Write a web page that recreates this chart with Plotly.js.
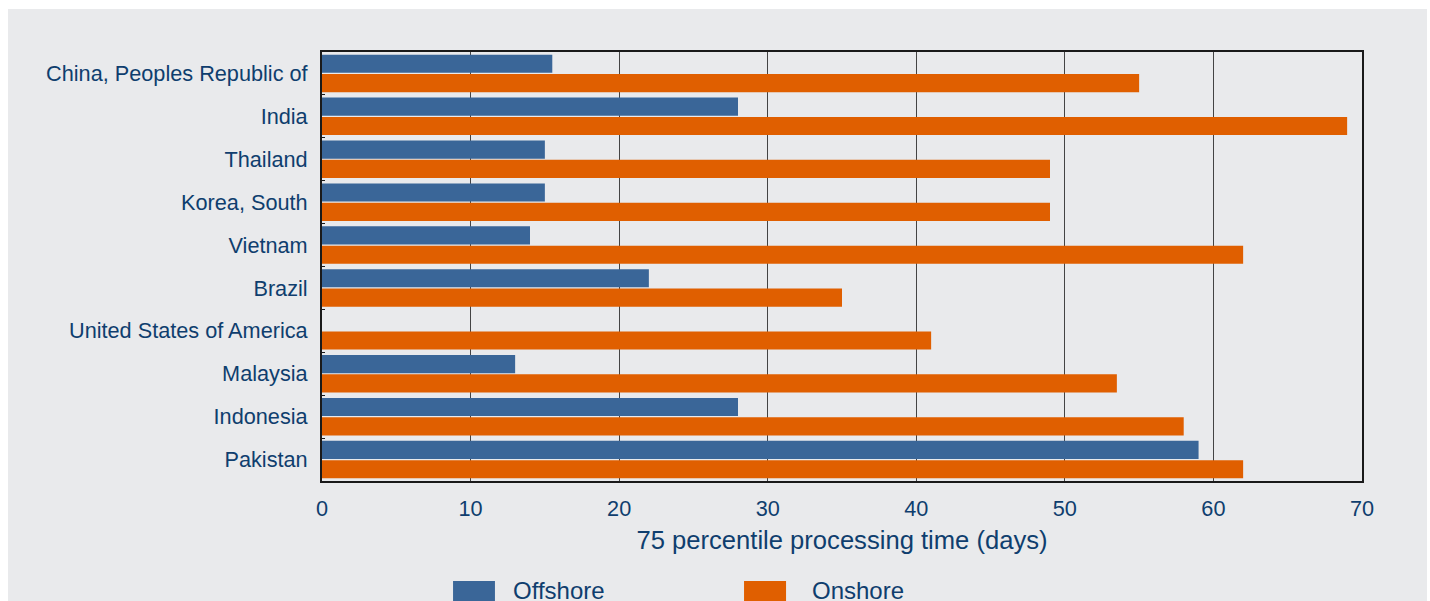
<!DOCTYPE html>
<html>
<head>
<meta charset="utf-8">
<script src="https://cdn.plot.ly/plotly-3.0.1.min.js"></script>
<style>
html,body{margin:0;padding:0;background:#ffffff;width:1430px;height:601px;overflow:hidden;}
#chart{position:absolute;left:8px;top:9px;width:1419px;height:592px;}
</style>
</head>
<body>
<div id="chart"></div>
<script>
const countries = ["China, Peoples Republic of","India","Thailand","Korea, South","Vietnam","Brazil","United States of America","Malaysia","Indonesia","Pakistan"];
const offshore = [15.5, 28, 15, 15, 14, 22, 0, 13, 28, 59];
const onshore  = [55, 69, 49, 49, 62, 35, 41, 53.5, 58, 62];
const seriesNames = ["Offshore","Onshore"];
const seriesColors = ["#3a6698","#e05f00"];
const xTitle = "75 percentile processing time (days)";

const textColor = "#0f3e6e";
const font = {family:"Liberation Sans, Arial, sans-serif", color:textColor};

const traces = [
  {type:"bar", orientation:"h", name:seriesNames[0], y:countries, x:offshore, marker:{color:seriesColors[0]}, hoverinfo:"x+y"},
  {type:"bar", orientation:"h", name:seriesNames[1], y:countries, x:onshore, marker:{color:seriesColors[1]}, hoverinfo:"x+y"}
];

// custom legend (swatches + labels) below plot
const legendSwatch = [[0.126,0.1663],[0.4058,0.4462]];
const legendTextX = [0.1815,0.4690];
const shapes = legendSwatch.map((p,i)=>({type:"rect", xref:"paper", yref:"paper", x0:p[0], x1:p[1], y0:-0.2331, y1:-0.30, fillcolor:seriesColors[i], line:{width:0}}));
const annotations = legendTextX.map((x,i)=>({xref:"paper", yref:"paper", x:x, y:-0.2545, xanchor:"left", yanchor:"middle", text:seriesNames[i], showarrow:false, font:Object.assign({}, font, {size:24})}));

const layout = {
  width:1419, height:592,
  paper_bgcolor:"#e9eaec", plot_bgcolor:"#e9eaec",
  margin:{l:314, r:65, t:43, b:120},
  barmode:"group", bargap:0.1, bargroupgap:0.06,
  showlegend:false,
  font:font,
  xaxis:{
    range:[0,70], dtick:10, tick0:0,
    showgrid:true, gridcolor:"#444444", gridwidth:1,
    zeroline:false,
    showline:true, linecolor:"#1a1a1a", linewidth:2, mirror:true,
    ticks:"", ticklabelstandoff:7,
    tickfont:Object.assign({}, font, {size:21.7}),
    title:{text:xTitle, font:Object.assign({}, font, {size:25.6}), standoff:11}
  },
  yaxis:{
    type:"category", autorange:"reversed",
    showgrid:false, zeroline:false,
    showline:true, linecolor:"#1a1a1a", linewidth:2, mirror:true,
    ticks:"inside", tickson:"boundaries", ticklen:3, tickcolor:"#1a1a1a",
    ticklabelstandoff:8,
    tickfont:Object.assign({}, font, {size:21.7})
  },
  shapes:shapes,
  annotations:annotations
};

Plotly.newPlot("chart", traces, layout, {displayModeBar:false, staticPlot:true});
</script>
</body>
</html>
